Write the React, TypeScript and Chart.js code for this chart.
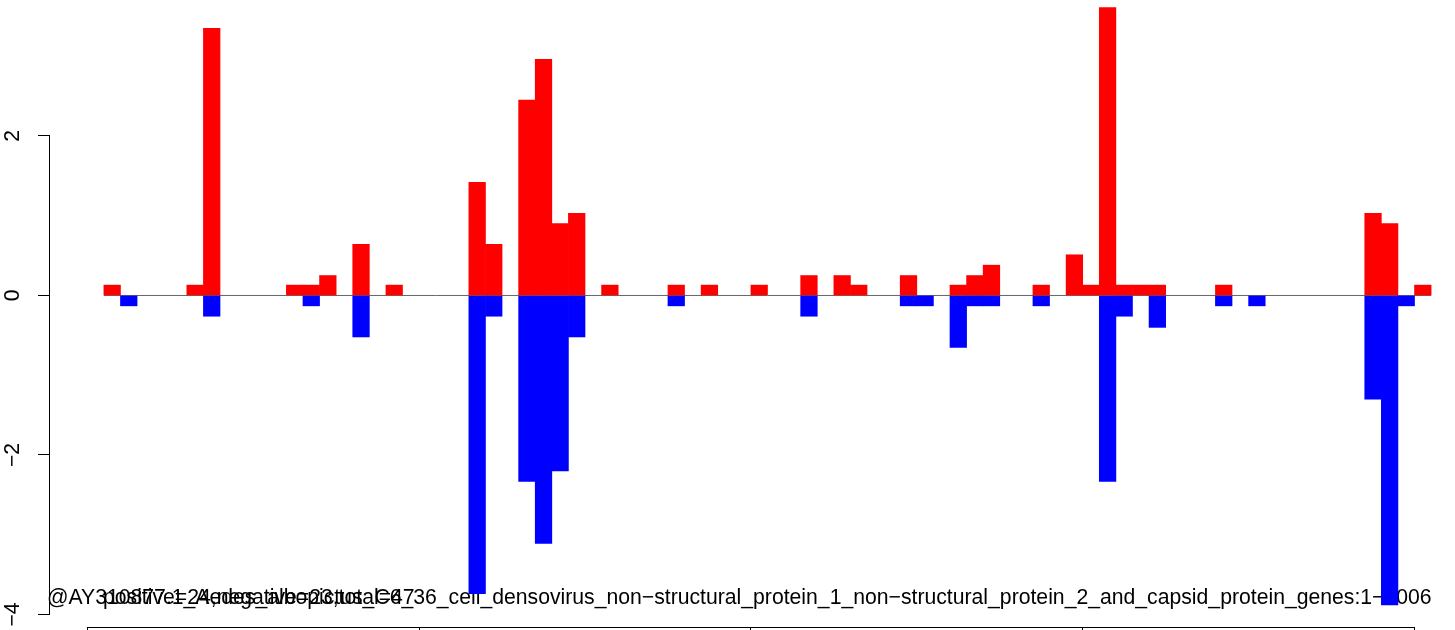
import React, { useEffect, useRef } from "react";
import { Chart, registerables } from "chart.js";

Chart.register(...registerables);

// Bin start positions along the sequence (bp)
const binStarts = [
  0, 50, 100, 150, 200, 250, 300, 350, 400, 450,
  500, 550, 600, 650, 700, 750, 800, 850, 900, 950,
  1000, 1050, 1100, 1150, 1200, 1250, 1300, 1350, 1400, 1450,
  1500, 1550, 1600, 1650, 1700, 1750, 1800, 1850, 1900, 1950,
  2000, 2050, 2100, 2150, 2200, 2250, 2300, 2350, 2400, 2450,
  2500, 2550, 2600, 2650, 2700, 2750, 2800, 2850, 2900, 2950,
  3000, 3050, 3100, 3150, 3200, 3250, 3300, 3350, 3400, 3450,
  3500, 3550, 3600, 3650, 3700, 3750, 3800, 3850, 3900, 3950,
  4000,
];
const binWidth = 50;

// Positive-strand values per bin (red)
const positiveValues = [
  0, 0.13, 0, 0, 0, 0, 0.13, 3.35, 0, 0,
  0, 0, 0.13, 0.13, 0.25, 0, 0.64, 0, 0.13, 0,
  0, 0, 0, 1.42, 0.64, 0, 2.45, 2.96, 0.9, 1.03,
  0, 0.13, 0, 0, 0, 0.13, 0, 0.13, 0, 0,
  0.13, 0, 0, 0.25, 0, 0.25, 0.13, 0, 0, 0.25,
  0, 0, 0.13, 0.25, 0.38, 0, 0, 0.13, 0, 0.51,
  0.13, 3.61, 0.13, 0.13, 0.13, 0, 0, 0, 0.13, 0,
  0, 0, 0, 0, 0, 0, 0, 1.03, 0.9, 0,
  0.13,
];

// Negative-strand values per bin (blue)
const negativeValues = [
  0, 0, -0.13, 0, 0, 0, 0, -0.26, 0, 0,
  0, 0, 0, -0.13, 0, 0, -0.52, 0, 0, 0,
  0, 0, 0, -3.74, -0.26, 0, -2.33, -3.11, -2.2, -0.52,
  0, 0, 0, 0, 0, -0.13, 0, 0, 0, 0,
  0, 0, 0, -0.26, 0, 0, 0, 0, 0, -0.13,
  -0.13, 0, -0.65, -0.13, -0.13, 0, 0, -0.13, 0, 0,
  0, -2.33, -0.26, 0, -0.4, 0, 0, 0, -0.13, 0,
  -0.13, 0, 0, 0, 0, 0, 0, -1.3, -3.88, -0.13,
  0,
];

const yTickValues = [-4, -2, 0, 2];
const xTickValues = [0, 1000, 2000, 3000, 4000];
const zeroLineSpan = [50, 4050];

const titleText =
  "@AY310877.1_Aedes_albopictus_C6_36_cell_densovirus_non\u2212structural_protein_1_non\u2212structural_protein_2_and_capsid_protein_genes:1\u22124006";
const countsText = "positive=24,negative=23,total=47";

const FONT = '"Liberation Sans", Arial, Helvetica, sans-serif';
const FONT_SIZE = 21.2;

const fmt = (v: number) => (v < 0 ? "\u2212" + Math.abs(v) : String(v));

const textPlugin = {
  id: "rText",
  beforeDatasetsDraw(chart: any) {
    const { ctx, chartArea } = chart;
    ctx.save();
    ctx.font = `${FONT_SIZE}px ${FONT}`;
    ctx.fillStyle = "#000";
    ctx.textAlign = "left";
    ctx.textBaseline = "alphabetic";
    const yBase = chartArea.bottom - 23;
    ctx.fillText(titleText, chartArea.left - 3, yBase);
    ctx.fillText(countsText, chartArea.left + 53, yBase);
    ctx.restore();
  },
};

const axisLinePlugin = {
  id: "rAxisLines",
  afterDraw(chart: any) {
    const { ctx, chartArea, scales } = chart;
    const xs = scales.x;
    const ys = scales.y;
    ctx.save();
    ctx.strokeStyle = "#000";
    ctx.lineWidth = 1;
    ctx.beginPath();
    const lx = Math.round(chartArea.left) - 0.5;
    ctx.moveTo(lx, ys.getPixelForValue(yTickValues[yTickValues.length - 1]));
    ctx.lineTo(lx, ys.getPixelForValue(yTickValues[0]));
    const by = Math.round(chartArea.bottom) + 0.5;
    ctx.moveTo(xs.getPixelForValue(xTickValues[0]), by);
    ctx.lineTo(xs.getPixelForValue(xTickValues[xTickValues.length - 1]), by);
    ctx.stroke();
    ctx.restore();
  },
};

export default function App() {
  const canvasRef = useRef<HTMLCanvasElement | null>(null);

  useEffect(() => {
    const canvas = canvasRef.current;
    if (!canvas) return;
    const chart = new Chart(canvas, {
      type: "bar",
      data: {
        datasets: [
          {
            type: "line",
            data: zeroLineSpan.map((x) => ({ x, y: 0 })),
            borderColor: "#666666",
            borderWidth: 1,
            pointRadius: 0,
            order: 5,
          } as any,
          {
            label: "positive",
            data: binStarts.map((s, i) => ({
              x: s + binWidth / 2,
              y: positiveValues[i] === 0 ? null : positiveValues[i],
            })),
            backgroundColor: "#ff0000",
            borderWidth: 0,
            grouped: false,
            barPercentage: 1,
            categoryPercentage: 1,
            order: 1,
          },
          {
            label: "negative",
            data: binStarts.map((s, i) => ({
              x: s + binWidth / 2,
              y: negativeValues[i] === 0 ? null : negativeValues[i],
            })),
            backgroundColor: "#0000ff",
            borderWidth: 0,
            grouped: false,
            barPercentage: 1,
            categoryPercentage: 1,
            order: 1,
          },
        ],
      },
      options: {
        animation: false,
        responsive: false,
        devicePixelRatio: 1,
        layout: { padding: 0 },
        plugins: {
          legend: { display: false },
          tooltip: { enabled: false },
          title: { display: false },
        },
        scales: {
          x: {
            type: "linear",
            min: -112.4,
            max: 4122,
            offset: false,
            afterBuildTicks: (s: any) => {
              s.ticks = xTickValues.map((v) => ({ value: v }));
            },
            afterFit: (s: any) => {
              s.height = 3;
              s.paddingLeft = 0;
              s.paddingRight = 0;
            },
            ticks: { display: false },
            grid: {
              drawOnChartArea: false,
              drawTicks: true,
              tickLength: 12,
              color: "#000",
              offset: false,
            },
            border: { display: false },
          },
          y: {
            type: "linear",
            min: -4.157,
            max: 3.705,
            afterBuildTicks: (s: any) => {
              s.ticks = yTickValues.map((v) => ({ value: v }));
            },
            afterFit: (s: any) => {
              s.width = 50;
              s.paddingTop = 0;
              s.paddingBottom = 0;
            },
            ticks: {
              minRotation: 90,
              maxRotation: 90,
              crossAlign: "center",
              padding: 13,
              color: "#000",
              font: { family: FONT, size: FONT_SIZE },
              callback: (v: any) => fmt(Number(v)),
            },
            grid: {
              drawOnChartArea: false,
              drawTicks: true,
              tickLength: 12,
              color: "#000",
            },
            border: { display: false },
          },
        },
      } as any,
      plugins: [textPlugin, axisLinePlugin],
    });
    return () => chart.destroy();
  }, []);

  return (
    <div style={{ position: "absolute", left: 0, top: 0, width: 1455, height: 630, background: "#fff" }}>
      <canvas ref={canvasRef} width={1455} height={630} style={{ width: 1455, height: 630, display: "block" }} />
    </div>
  );
}
